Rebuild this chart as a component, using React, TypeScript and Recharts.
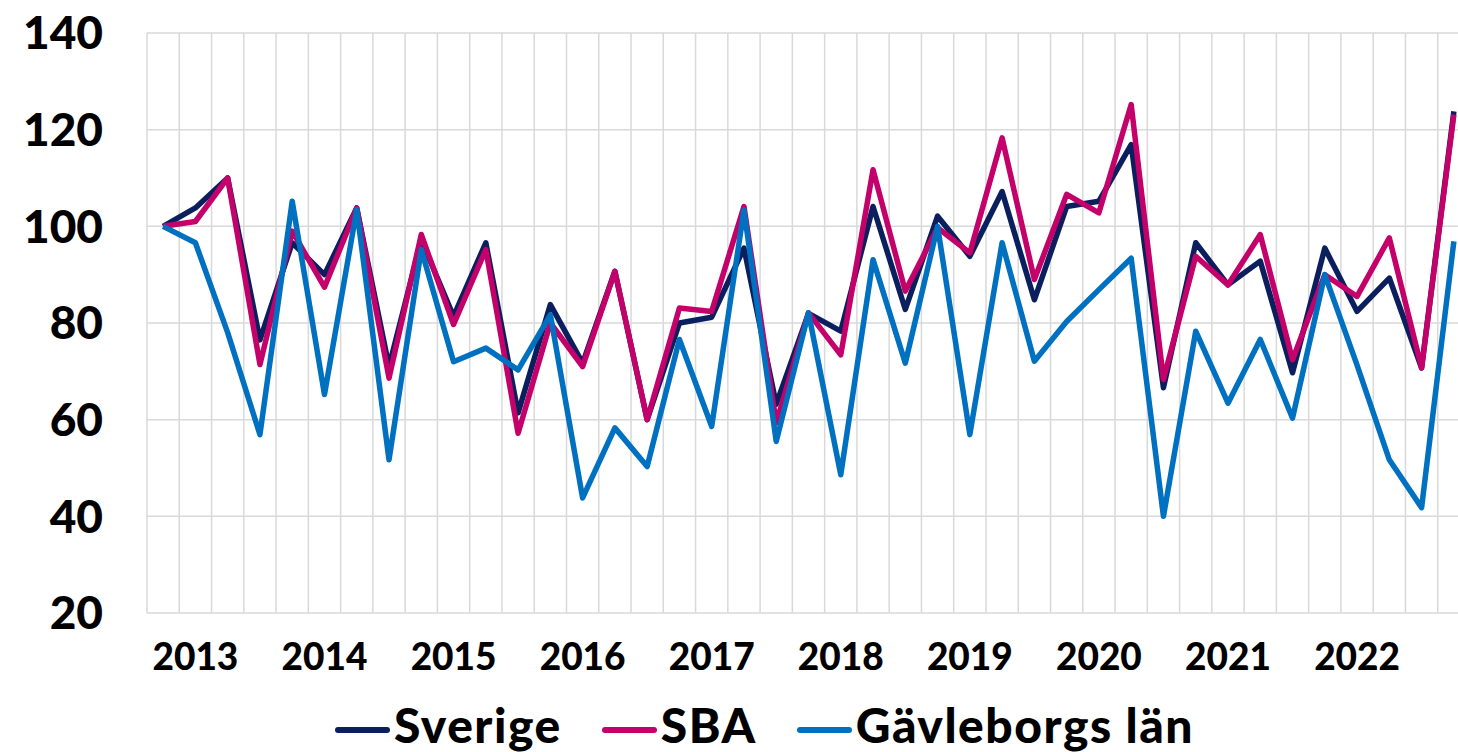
import { LineChart, Line, XAxis, YAxis, CartesianGrid } from 'recharts'

const quarters = [
  '2012 K4',
  '2013 K1', '2013 K2', '2013 K3', '2013 K4',
  '2014 K1', '2014 K2', '2014 K3', '2014 K4',
  '2015 K1', '2015 K2', '2015 K3', '2015 K4',
  '2016 K1', '2016 K2', '2016 K3', '2016 K4',
  '2017 K1', '2017 K2', '2017 K3', '2017 K4',
  '2018 K1', '2018 K2', '2018 K3', '2018 K4',
  '2019 K1', '2019 K2', '2019 K3', '2019 K4',
  '2020 K1', '2020 K2', '2020 K3', '2020 K4',
  '2021 K1', '2021 K2', '2021 K3', '2021 K4',
  '2022 K1', '2022 K2', '2022 K3', '2022 K4',
]

const sverige = [
  100, 103.8, 110, 76.5, 96.6, 90, 103.8, 71, 97.2, 81.4, 96.6, 61.4, 83.8,
  71.7, 90.7, 60, 80, 81.2, 95.5, 63.2, 82, 78.3, 104.1, 82.8, 102.1, 93.8,
  107.2, 84.8, 104.1, 105.2, 116.9, 66.6, 96.6, 87.9, 92.8, 69.7, 95.5, 82.4,
  89.3, 70.7, 123.8,
]

const sba = [
  100, 101, 110, 71.4, 99, 87.4, 103.8, 68.6, 98.3, 79.7, 95.2, 57.2, 80, 71,
  90.7, 60, 83.1, 82.4, 104.1, 59.3, 82.1, 73.4, 111.7, 86.6, 99.7, 94.5,
  118.3, 89, 106.6, 102.8, 125.2, 68.3, 93.8, 87.9, 98.3, 72.4, 90, 85.5, 97.6,
  70.7, 123.1,
]

const gavleborg = [
  100, 96.6, 78, 56.9, 105.2, 65.2, 103.5, 51.7, 95.2, 72, 74.8, 70.3, 81.7,
  43.8, 58.3, 50.3, 76.6, 58.6, 103.4, 55.5, 82.1, 48.6, 93.1, 71.7, 100, 56.9,
  96.6, 72.1, 80.3, 86.9, 93.4, 40, 78.3, 63.4, 76.6, 60.3, 90, 71.3, 51.7,
  41.8, 96.9,
]

const yTicks = [20, 40, 60, 80, 100, 120, 140]

const series = [
  { key: 'sverige', name: 'Sverige', color: '#0b1f5e' },
  { key: 'sba', name: 'SBA', color: '#c4006a' },
  { key: 'gavleborg', name: 'Gävleborgs län', color: '#0070c0' },
]

const data = quarters.map((q, i) => ({
  quarter: q,
  sverige: sverige[i],
  sba: sba[i],
  gavleborg: gavleborg[i],
}))

const font = 'Lato, "Open Sans", sans-serif'

const App = () => {
  return (
    <div
      style={{
        position: 'fixed',
        left: 0,
        top: 0,
        width: 1458,
        height: 752,
        overflow: 'hidden',
        background: '#fff',
        fontFamily: font,
      }}
    >
      <LineChart
        width={1472}
        height={752}
        data={data}
        margin={{ top: 33, right: 2, bottom: 79, left: 0 }}
      >
        <CartesianGrid
          stroke='#d9d9d9'
          strokeWidth={1.5}
          verticalCoordinatesGenerator={({ offset }: any) =>
            quarters.map((_, i) => offset.left + (i * offset.width) / quarters.length)
          }
        />
        <XAxis
          dataKey='quarter'
          scale='band'
          interval={0}
          height={60}
          axisLine={false}
          tickLine={false}
          tickSize={0}
          tickMargin={31}
          tickFormatter={(v: string) => (v.endsWith('K1') ? v.slice(0, 4) : '')}
          tick={{ fill: '#000', fontSize: 37, fontWeight: 900, fontFamily: font }}
        />
        <YAxis
          width={147}
          domain={[20, 140]}
          ticks={yTicks}
          axisLine={false}
          tickLine={false}
          tickSize={0}
          tickMargin={44}
          tick={{ fill: '#000', fontSize: 46, fontWeight: 900, fontFamily: font }}
        />
        {series.map((s) => (
          <Line
            key={s.key}
            dataKey={s.key}
            name={s.name}
            stroke={s.color}
            strokeWidth={5.5}
            strokeLinejoin='round'
            dot={false}
            isAnimationActive={false}
          />
        ))}
      </LineChart>

      {/* Legend */}
      <div
        style={{
          position: 'absolute',
          left: 335,
          top: 701,
          display: 'flex',
          gap: 40,
          fontSize: 48,
          fontWeight: 900,
          letterSpacing: 1.5,
          lineHeight: '48px',
          color: '#000',
          whiteSpace: 'nowrap',
        }}
      >
        {series.map((s) => (
          <div key={s.key} style={{ display: 'flex', alignItems: 'flex-start' }}>
            <span
              style={{
                display: 'inline-block',
                width: 55,
                height: 6,
                marginTop: 26,
                marginRight: 4,
                borderRadius: 3,
                background: s.color,
              }}
            />
            <span>{s.name}</span>
          </div>
        ))}
      </div>
    </div>
  )
}

export default App
